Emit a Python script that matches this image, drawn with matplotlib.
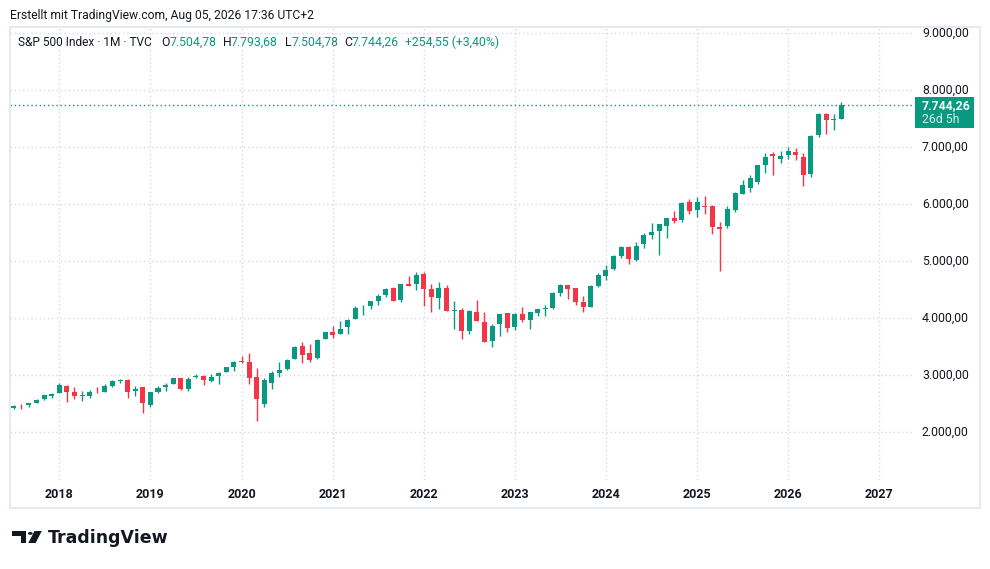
import matplotlib
matplotlib.use("Agg")
import matplotlib.pyplot as plt
from matplotlib.patches import Rectangle, Polygon, Circle
from matplotlib.transforms import blended_transform_factory

# ---------------- data (monthly OHLC, Jul 2017 .. Aug 2026) ----------------
start_year, start_month = 2017, 7
opens = [
    2431.39, 2477.10, 2474.42, 2521.20, 2583.21, 2645.10,
    2683.73, 2816.45, 2715.22, 2633.45, 2642.96, 2718.70, 2704.95, 2821.17, 2896.96, 2926.29, 2717.58, 2790.50,
    2476.96, 2702.32, 2798.22, 2848.63, 2952.33, 2751.53, 2971.41, 2980.32, 2909.01, 2983.69, 3050.72, 3143.85,
    3244.67, 3235.66, 2974.28, 2498.08, 2869.09, 3038.78, 3105.92, 3288.26, 3507.44, 3385.87, 3296.20, 3645.87,
    3764.61, 3731.17, 3842.51, 3992.78, 4191.98, 4216.52, 4300.73, 4406.86, 4528.80, 4317.16, 4610.62, 4602.82,
    4778.14, 4519.57, 4363.14, 4540.32, 4130.61, 4149.78, 3781.00, 4112.38, 3936.73, 3609.78, 3901.79, 4087.14,
    3853.29, 4070.07, 3963.34, 4102.20, 4166.79, 4181.97, 4450.48, 4578.83, 4530.60, 4284.52, 4201.27, 4559.43,
    4745.20, 4861.11, 5098.51, 5257.97, 5029.03, 5297.15, 5471.08, 5537.84, 5623.89, 5757.73, 5723.22, 6040.11,
    5903.26, 5969.65, 5968.33, 5597.53, 5625.14, 5896.68, 6187.00, 6287.28, 6401.51, 6693.75, 6878.00, 6801.00,
    6872.00, 6918.00, 6830.00, 6540.00, 7220.00, 7581.00, 7478.00, 7504.78,
]
highs = [
    2484.04, 2490.87, 2519.44, 2582.98, 2657.74, 2694.97,
    2872.87, 2835.96, 2801.90, 2717.49, 2742.24, 2791.47, 2848.03, 2916.50, 2940.91, 2939.86, 2815.15, 2800.18,
    2708.95, 2813.49, 2860.31, 2949.52, 2954.13, 2964.15, 3027.98, 3013.59, 3021.99, 3050.10, 3154.26, 3247.93,
    3337.77, 3393.52, 3136.72, 2954.86, 3068.67, 3233.13, 3279.99, 3514.77, 3588.11, 3549.85, 3645.99, 3760.20,
    3870.90, 3950.43, 3994.41, 4218.78, 4238.04, 4302.43, 4429.97, 4537.36, 4545.85, 4608.08, 4743.83, 4808.93,
    4818.62, 4595.31, 4637.30, 4593.45, 4307.66, 4177.51, 4140.15, 4325.28, 4119.28, 3905.42, 4080.11, 4100.96,
    4094.21, 4195.44, 4110.75, 4170.06, 4231.10, 4458.48, 4607.07, 4584.62, 4541.25, 4393.57, 4587.64, 4793.30,
    4931.09, 5111.06, 5264.85, 5263.95, 5341.88, 5505.53, 5669.67, 5651.62, 5767.37, 5878.46, 6044.17, 6099.97,
    6128.18, 6147.43, 5986.09, 5695.31, 5968.61, 6215.08, 6427.02, 6508.23, 6699.52, 6900.00, 6920.00, 6935.00,
    7000.00, 6988.00, 6895.00, 7220.00, 7604.00, 7610.00, 7581.00, 7793.68,
]
lows = [
    2407.70, 2417.35, 2446.55, 2520.40, 2566.17, 2605.52,
    2682.36, 2532.69, 2585.89, 2553.80, 2594.62, 2691.99, 2698.95, 2796.34, 2864.12, 2603.54, 2631.09, 2346.58,
    2443.96, 2681.83, 2722.27, 2848.63, 2750.52, 2728.81, 2952.22, 2822.12, 2891.85, 2855.94, 3050.72, 3070.33,
    3214.64, 2855.84, 2191.86, 2447.49, 2766.64, 2965.66, 3101.17, 3284.53, 3209.45, 3233.94, 3279.74, 3633.40,
    3662.71, 3725.62, 3723.34, 3992.78, 4056.88, 4164.40, 4233.13, 4367.73, 4305.91, 4278.94, 4560.00, 4495.12,
    4222.62, 4114.65, 4157.87, 4124.28, 3810.32, 3636.87, 3721.56, 3954.53, 3584.13, 3491.58, 3698.15, 3764.49,
    3794.33, 3943.08, 3808.86, 4048.28, 4048.28, 4166.15, 4385.05, 4335.31, 4238.63, 4103.78, 4197.74, 4546.50,
    4682.11, 4853.52, 5056.82, 4953.56, 5011.05, 5234.32, 5390.95, 5119.26, 5402.62, 5674.00, 5696.51, 5832.30,
    5773.31, 5837.66, 5488.73, 4835.04, 5578.64, 5861.43, 6177.97, 6212.69, 6360.58, 6550.78, 6521.00, 6730.00,
    6801.00, 6778.00, 6325.00, 6482.00, 7185.00, 7238.00, 7307.00, 7504.78,
]
closes = [
    2470.30, 2471.65, 2519.36, 2575.26, 2647.58, 2673.61,
    2823.81, 2713.83, 2640.87, 2648.05, 2705.27, 2718.37, 2816.29, 2901.52, 2913.98, 2711.74, 2760.17, 2506.85,
    2704.10, 2784.49, 2834.40, 2945.83, 2752.06, 2941.76, 2980.38, 2926.46, 2976.74, 3037.56, 3140.98, 3230.78,
    3225.52, 2954.22, 2584.59, 2912.43, 3044.31, 3100.29, 3271.12, 3500.31, 3363.00, 3269.96, 3621.63, 3756.07,
    3714.24, 3811.15, 3972.89, 4181.17, 4204.11, 4297.50, 4395.26, 4522.68, 4307.54, 4605.38, 4567.00, 4766.18,
    4515.55, 4373.94, 4530.41, 4131.93, 4132.15, 3785.38, 4130.29, 3955.00, 3585.62, 3871.98, 4080.11, 3839.50,
    4076.60, 3970.15, 4109.31, 4169.48, 4179.83, 4450.38, 4588.96, 4507.66, 4288.05, 4193.80, 4567.80, 4769.83,
    4845.65, 5096.27, 5254.35, 5035.69, 5277.51, 5460.48, 5522.30, 5648.40, 5762.48, 5705.45, 6032.38, 5881.63,
    6040.53, 5954.50, 5611.85, 5569.06, 5911.69, 6204.95, 6339.39, 6460.26, 6688.46, 6840.20, 6849.09, 6848.00,
    6936.00, 6872.00, 6522.00, 7197.00, 7581.00, 7482.00, 7489.71, 7744.26,
]
price_ticks = [2000, 3000, 4000, 5000, 6000, 7000, 8000, 9000]
year_labels = ["2018", "2019", "2020", "2021", "2022", "2023", "2024", "2025", "2026", "2027"]

last_change = 254.55
last_pct = 3.40
countdown = "26d 5h"
title = "S&P 500 Index · 1M · TVC"
created = "Erstellt mit TradingView.com, Aug 05, 2026 17:36 UTC+2"

# ---------------- style ----------------
UP = "#089981"
DOWN = "#F23645"
TXT = "#131722"
GRID = "#d6d9e0"
FONT = ["Roboto", "DejaVu Sans"]
plt.rcParams["font.family"] = FONT

W, H = 990, 569
fig = plt.figure(figsize=(W / 100, H / 100), dpi=100)
fig.patch.set_facecolor("white")


def fx(px):
    return px / W


def fy(py):
    return 1 - py / H


def de(v):
    s = f"{v:,.2f}"
    return s.replace(",", "X").replace(".", ",").replace("X", ".")


L, R, T, B = 10, 912, 27, 480
ax = fig.add_axes([fx(L), fy(B), (R - L) / W, (B - T) / H])
ax.set_facecolor("white")
for s in ax.spines.values():
    s.set_visible(False)

n = len(closes)
xs = list(range(n))
ax.set_xlim(-0.493, 118.31)
ax.set_ylim(1163, 9114)

# grid
year_pos = [(12 - start_month + 1) + 12 * k for k in range(len(year_labels))]
for yp in price_ticks:
    ax.axhline(yp, color=GRID, lw=1.0, ls=(0, (1.0, 2.0)), zorder=0)
for xp in year_pos:
    ax.axvline(xp, color=GRID, lw=1.0, ls=(0, (1.0, 2.0)), zorder=0)

# candles
bw = 0.66
for i in xs:
    o, h, l, c = opens[i], highs[i], lows[i], closes[i]
    col = UP if c >= o else DOWN
    ax.vlines(i, l, h, color=col, lw=1.0, zorder=2)
    bot = min(o, c)
    hgt = max(abs(c - o), 14)
    ax.bar(i, hgt, bottom=bot, width=bw, color=col, edgecolor=col, lw=0, zorder=3)

# last price line
last = closes[-1]
ax.axhline(last, color=UP, lw=1.0, ls=(0, (1.0, 2.0)), zorder=1)

ax.set_xticks([])
ax.set_yticks([])

# year labels
trans_x = blended_transform_factory(ax.transData, fig.transFigure)
for xp, lab in zip(year_pos, year_labels):
    ax.text(xp, fy(494), lab, transform=trans_x, ha="center", va="center",
            fontsize=9, color=TXT, fontweight="bold", clip_on=False)

# price labels
trans_y = blended_transform_factory(fig.transFigure, ax.transData)
for yp in price_ticks:
    ax.text(fx(922), yp, de(yp), transform=trans_y, ha="left", va="center",
            fontsize=8.8, color=TXT, clip_on=False)

# last price box
fig.patches.append(Rectangle((fx(915), fy(128)), (974 - 915) / W, (128 - 97) / H,
                             transform=fig.transFigure, facecolor=UP, edgecolor="none", zorder=5))
fig.text(fx(922), fy(105.5), de(last), ha="left", va="center", fontsize=8.8,
         color="white", fontweight="bold", zorder=6)
fig.text(fx(922), fy(119.5), countdown, ha="left", va="center", fontsize=8.8,
         color="#d9f0eb", zorder=6)

# outer frame
fig.patches.append(Rectangle((fx(10), fy(508)), (980 - 10) / W, (508 - 27) / H,
                             transform=fig.transFigure, facecolor="none",
                             edgecolor="#e6e9ef", lw=1.5, zorder=4))

# header texts
fig.text(fx(10), fy(15), created, ha="left", va="center", fontsize=8.7, color=TXT)
hy = fy(42.5)
fig.text(fx(17.5), hy, title, ha="left", va="center", fontsize=8.6, color=TXT)
o_, h_, l_, c_ = opens[-1], highs[-1], lows[-1], closes[-1]
pieces = [
    (161, "O", TXT), (170, de(o_), UP),
    (222.5, "H", TXT), (230.5, de(h_), UP),
    (285, "L", TXT), (291.5, de(l_), UP),
    (344, "C", TXT), (352, de(c_), UP),
    (405, "+" + de(last_change) + " (+" + de(last_pct) + "%)", UP),
]
for px_, s, col in pieces:
    fig.text(fx(px_), hy, s, ha="left", va="center", fontsize=8.8, color=col)

# TradingView logo
logo_col = "#131722"
fig.patches.append(Polygon([(fx(12.3), fy(531)), (fx(26), fy(531)), (fx(26), fy(543)),
                            (fx(20.7), fy(543)), (fx(20.7), fy(535.8)), (fx(12.3), fy(535.8))],
                           closed=True, transform=fig.transFigure, facecolor=logo_col, edgecolor="none"))
fig.patches.append(Circle((fx(30.3), fy(533.4)), 2.4 / W, transform=fig.transFigure,
                          facecolor=logo_col, edgecolor="none"))
fig.patches.append(Polygon([(fx(34.5), fy(531)), (fx(41.8), fy(531)), (fx(35.6), fy(543)),
                            (fx(28.3), fy(543))],
                           closed=True, transform=fig.transFigure, facecolor=logo_col, edgecolor="none"))
fig.text(fx(48), fy(543.2), "TradingView", ha="left", va="baseline", fontsize=12.5,
         fontweight="bold", color=logo_col, family=["DejaVu Sans"])

fig.savefig("out.png", dpi=100, facecolor="white")
